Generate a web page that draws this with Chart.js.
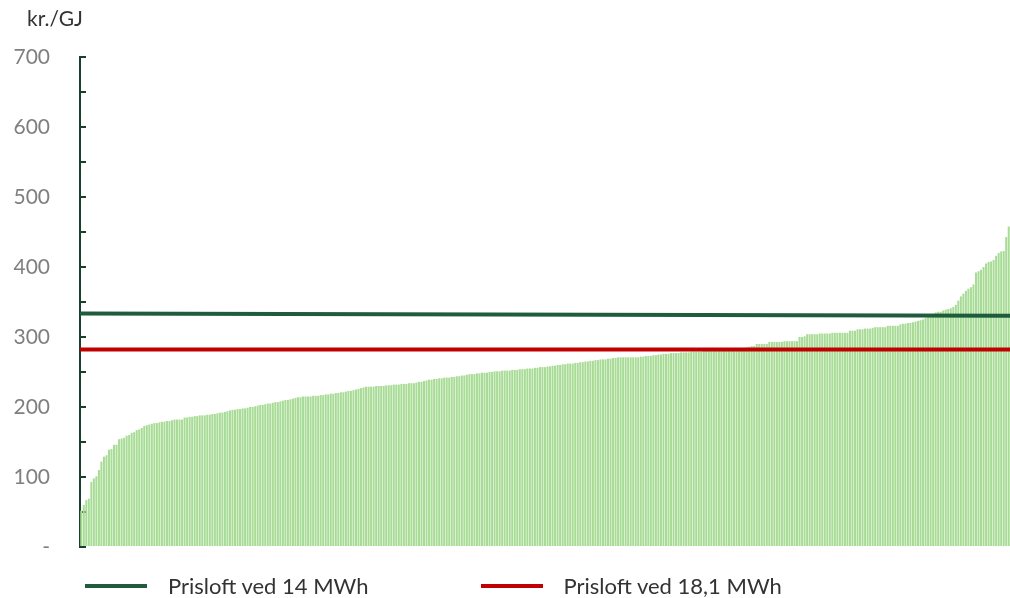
<!DOCTYPE html>
<html>
<head>
<meta charset="utf-8">
<script src="https://cdn.jsdelivr.net/npm/chart.js@4.4.1/dist/chart.umd.min.js"></script>
<style>
  body { margin: 0; background: #fff; }
  .wrap { position: relative; width: 1010px; height: 598px; font-family: Lato, "Open Sans", sans-serif; }
  .unit { position: absolute; left: 27px; top: 5px; font-size: 21px; color: #333; }
  #legend { position: absolute; left: 85px; top: 572px; display: flex; gap: 112px; font-size: 22px; color: #333; }
  #legend .item { display: flex; align-items: center; }
  #legend .mark { width: 62px; height: 4px; margin-right: 21px; }
</style>
</head>
<body>
<div class="wrap">
  <canvas id="chart" width="1010" height="598"></canvas>
  <div class="unit">kr./GJ</div>
  <div id="legend"></div>
</div>
<script>
// prisen pr. husstand, sorteret stigende (kr./GJ)
const barValues = [
    52, 60, 67, 69, 93, 98, 101, 110, 122, 129,
    131, 139, 140, 146, 146, 154, 155, 156, 159, 160,
    163, 164, 167, 168, 170, 173, 174, 175, 176, 177,
    177, 178, 179, 179, 180, 180, 181, 182, 182, 182,
    182, 185, 185, 186, 186, 187, 187, 188, 188, 188,
    189, 189, 190, 190, 191, 192, 192, 193, 194, 195, 196,
    196, 197, 197, 198, 198, 199, 200, 200, 201, 202, 203, 203, 204,
    205, 205, 206, 207, 207, 208, 209,
    210, 210, 211, 212, 213, 214, 214,
    215, 215, 215, 215, 216, 216,
    216, 217, 217, 218, 218, 219, 219,
    220, 220, 221, 221, 222, 223, 223,
    224, 225, 226, 227, 228, 229,
    229, 229, 229, 230, 230, 230, 230,
    231, 231, 231, 232, 232, 232,
    233, 233, 233, 234, 234, 234, 235,
    236, 236, 237, 238, 239, 239, 240,
    240, 241, 241, 242, 242, 242, 243, 243,
    244, 244, 245, 245, 246, 247, 247, 247, 248, 248,
    249, 249, 249, 250, 250, 251, 251, 251, 252, 252,
    252, 252, 253, 253, 253, 254, 254, 254, 255, 255,
    255, 256, 256, 257, 257, 257, 258, 258, 259, 259,
    260, 260, 261, 261, 262, 262, 262, 263, 263, 264,
    264, 265, 265, 266, 266, 267, 267, 268, 268, 268,
    269, 269, 270, 270, 271, 271, 271, 271, 271, 271,
    271, 271, 271, 272, 272, 273, 273, 273, 274, 274,
    275, 275, 276, 276, 276, 277, 277, 277, 277, 278,
    278, 278, 278, 279, 279, 279, 279, 279, 280, 280,
    280, 281, 281, 281, 281, 282, 282, 282, 282, 283,
    283, 283, 283, 284, 284, 285, 286, 287, 287, 290,
    290, 290, 290, 290, 293, 293, 293, 293, 293, 293,
    294, 294, 294, 294, 294, 294, 300, 300, 301, 304,
    304, 304, 304, 304, 305, 305, 305, 305, 305, 306,
    306, 306, 306, 306, 306, 306, 309, 309, 309, 311,
    311, 311, 312, 312, 312, 313, 314, 314, 314, 314,
    314, 316, 316, 316, 316, 316, 318, 319, 319, 320,
    320, 321, 322, 323, 324, 325, 327, 330, 332, 333,
    335, 336, 336, 338, 339, 340, 341, 343, 346, 352,
    358, 362, 366, 369, 371, 375, 392, 394, 396, 400,
    405, 407, 408, 410, 416, 420, 422, 423, 443, 458
];
const households = barValues.map((v, i) => String(i + 1));

// prisloft-linjer (start og slut)
const cap14 = [333.5, 330.5];
const cap181 = [282, 282];
const seriesNames = ["Prisloft ved 14 MWh", "Prisloft ved 18,1 MWh"];
const seriesColors = ["#1f5b3d", "#c00000"];

const yMax = 700;
const yStep = 50;

const axisColor = "#1b3f2d";

const htmlLegend = {
    id: "htmlLegend",
    afterUpdate(chart) {
        const box = document.getElementById("legend");
        box.innerHTML = "";
        chart.data.datasets.filter(ds => ds.type === "line").forEach(ds => {
            const item = document.createElement("div");
            item.className = "item";
            const mark = document.createElement("span");
            mark.className = "mark";
            mark.style.background = ds.borderColor;
            const text = document.createElement("span");
            text.textContent = ds.label;
            item.appendChild(mark);
            item.appendChild(text);
            box.appendChild(item);
        });
    }
};

new Chart(document.getElementById("chart"), {
    data: {
        labels: households,
        datasets: [
            {
                type: "line",
                label: seriesNames[0],
                data: [{ x: 0, y: cap14[0] }, { x: 1, y: cap14[1] }],
                xAxisID: "xLine",
                borderColor: seriesColors[0],
                borderWidth: 4,
                pointRadius: 0,
                order: 1
            },
            {
                type: "line",
                label: seriesNames[1],
                data: [{ x: 0, y: cap181[0] }, { x: 1, y: cap181[1] }],
                xAxisID: "xLine",
                borderColor: seriesColors[1],
                borderWidth: 4,
                pointRadius: 0,
                order: 1
            },
            {
                type: "bar",
                label: "Pris",
                data: barValues,
                xAxisID: "x",
                backgroundColor: "#a8dc96",
                grouped: false, // ellers tæller linjerne med som grupper og søjlerne bliver halvt så brede
                barPercentage: 0.8,
                categoryPercentage: 1,
                order: 2
            }
        ]
    },
    options: {
        responsive: false,
        animation: false,
        layout: { padding: { left: 8, top: 57, right: 0, bottom: 51 } },
        plugins: {
            legend: { display: false },
            tooltip: { enabled: false }
        },
        scales: {
            x: { type: "category", display: false },
            xLine: { type: "linear", display: false, min: 0, max: 1 },
            y: {
                min: 0,
                max: yMax,
                afterFit: scale => { scale.width = 72; },
                border: { color: axisColor, width: 2 },
                grid: {
                    drawOnChartArea: false,
                    color: axisColor,
                    lineWidth: 2,
                    tickLength: -6
                },
                ticks: {
                    stepSize: yStep,
                    autoSkip: false,
                    padding: 36,
                    color: "#7f7f7f",
                    font: { family: "Lato", size: 21 },
                    callback: v => v === 0 ? "-" : (v % 100 === 0 ? String(v) : "")
                }
            }
        }
    },
    plugins: [htmlLegend]
});
</script>
</body>
</html>
